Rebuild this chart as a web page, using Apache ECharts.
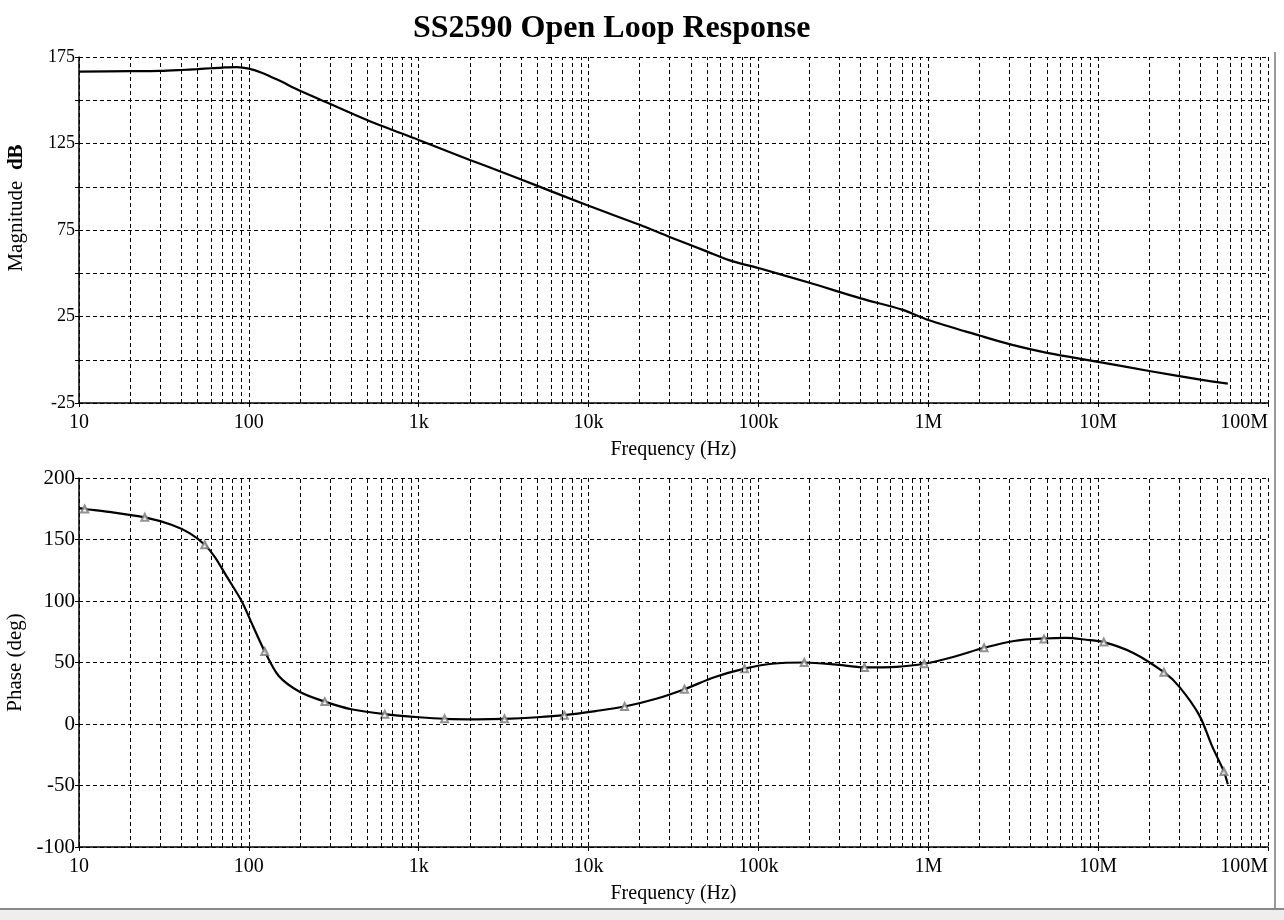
<!DOCTYPE html>
<html>
<head>
<meta charset="utf-8">
<script src="https://cdn.jsdelivr.net/npm/echarts@6/dist/echarts.min.js"></script>
<style>
html,body{margin:0;padding:0;background:#fff;}
#main{width:1284px;height:920px;}
</style>
</head>
<body>
<div id="main"></div>
<script>
// ---- data ----
const xTickLabels = {10:'10',100:'100',1000:'1k',10000:'10k',100000:'100k',1000000:'1M',10000000:'10M',100000000:'100M'};
const magTickLabels = [-25, 25, 75, 125, 175];

const magFreq = [10, 20, 30, 40, 50, 60, 70, 85, 100, 120, 150, 200, 300, 500, 1000, 2000, 3000, 5000, 10000, 20000, 30000, 50000, 70000, 100000, 200000, 400000, 700000, 1000000, 2000000, 3000000, 5000000, 10000000, 20000000, 40000000, 58000000];
const magDb   = [166.6, 166.8, 167.0, 167.5, 168.0, 168.5, 168.9, 169.2, 168.3, 165.8, 161.5, 155.5, 148.0, 138.5, 127.0, 115.5, 109.0, 100.5, 89.0, 78.0, 71.0, 62.5, 57.0, 53.0, 44.5, 35.5, 29.0, 23.0, 14.0, 9.0, 4.0, -1.2, -6.5, -11.5, -13.8];

const phaseFreq = [10, 10.8, 15, 24.4, 35, 45, 55, 63.1, 74, 90.6, 106, 124, 150, 200, 280, 400, 631, 1000, 1420, 2200, 3200, 5000, 7200, 11000, 16300, 25000, 36700, 55000, 82800, 120000, 186000, 280000, 421000, 650000, 946000, 1400000, 2130000, 3200000, 4800000, 6500000, 8500000, 10800000, 16000000, 24400000, 30000000, 39300000, 47000000, 55000000, 58000000];
const phaseDeg  = [175.5, 174.8, 172.5, 168.0, 162.0, 155.0, 145.7, 135.7, 120.0, 100.0, 79.3, 59.0, 39.0, 26.0, 18.2, 12.0, 8.0, 5.5, 4.2, 3.8, 4.2, 5.5, 7.2, 10.5, 14.2, 20.5, 28.3, 38.0, 45.0, 49.0, 50.0, 48.5, 46.0, 46.5, 49.0, 54.5, 62.0, 67.5, 69.5, 70.0, 68.5, 66.6, 58.0, 42.1, 30.4, 7.4, -18.4, -38.7, -49.0];

const phaseMarkerFreq = [10.8, 24.4, 55, 124, 280, 631, 1420, 3200, 7200, 16300, 36700, 82800, 186000, 421000, 946000, 2130000, 4800000, 10800000, 24400000, 55000000];
const phaseMarkerDeg  = [174.8, 168.0, 145.7, 59.0, 18.2, 8.0, 4.2, 4.2, 7.2, 14.2, 28.3, 45.0, 50.0, 46.0, 49.0, 62.0, 69.2, 66.6, 42.1, -38.7];

const minorFreqs = [];
for (let d = 10; d < 1e8; d *= 10) { for (let k = 2; k <= 9; k++) minorFreqs.push(d * k); }

// ---- chart ----
const FONT = '"Liberation Serif", "Times New Roman", serif';
const dash = [4, 3];
const chart = echarts.init(document.getElementById('main'), null, {renderer: 'canvas'});

function xAxisCfg(gridIndex) {
  return {
    type: 'log', logBase: 10, gridIndex, min: 10, max: 1e8,
    name: 'Frequency (Hz)', nameLocation: 'middle', nameGap: 37,
    nameTextStyle: {fontFamily: FONT, fontSize: 20, color: '#000'},
    axisLine: {show: true, onZero: false, lineStyle: {color: '#000', width: 1.5}},
    axisTick: {show: true, length: 4, inside: false, lineStyle: {color: '#000'}},
    axisLabel: {fontFamily: FONT, fontSize: 20, color: '#000', margin: 10, hideOverlap: false,
      alignMaxLabel: 'right',
      formatter: v => xTickLabels[Math.round(v)] || ''},
    splitLine: {show: true, lineStyle: {color: '#000', type: dash, width: 1}}
  };
}

function minorLine() {
  return {
    silent: true, symbol: ['none', 'none'], animation: false,
    label: {show: false},
    lineStyle: {color: '#000', type: dash, width: 1},
    emphasis: {disabled: true},
    data: minorFreqs.map(f => ({xAxis: f}))
  };
}

chart.setOption({
  animation: false,
  backgroundColor: '#fff',
  title: {
    text: 'SS2590 Open Loop Response', left: 408, top: 8,
    textStyle: {fontFamily: FONT, fontSize: 32, fontWeight: 'bold', color: '#000'}
  },
  grid: [
    {left: 79, right: 16, top: 57, height: 346, outerBoundsMode: 'none', containLabel: false},
    {left: 79, right: 16, top: 478, height: 369, outerBoundsMode: 'none', containLabel: false}
  ],
  xAxis: [xAxisCfg(0), xAxisCfg(1)],
  yAxis: [
    {
      type: 'value', gridIndex: 0, min: -25, max: 175, interval: 25,
      name: '{a|Magnitude}  {b|dB}', nameLocation: 'middle', nameGap: 52,
      nameTextStyle: {fontFamily: FONT, fontSize: 21, color: '#000', padding: [0, 0, 0, 44],
        rich: {a: {fontFamily: FONT, fontSize: 21, color: '#000'},
               b: {fontFamily: FONT, fontSize: 21, color: '#000', fontWeight: 'bold'}}},
      axisLine: {show: true, onZero: false, lineStyle: {color: '#000', width: 1.5}},
      axisTick: {show: true, length: 4, lineStyle: {color: '#000'}},
      axisLabel: {fontFamily: FONT, fontSize: 18, color: '#000', margin: 4,
        formatter: v => magTickLabels.indexOf(Math.round(v)) >= 0 ? String(Math.round(v)) : ''},
      splitLine: {show: true, lineStyle: {color: '#000', type: dash, width: 1}}
    },
    {
      type: 'value', gridIndex: 1, min: -100, max: 200, interval: 50,
      name: 'Phase (deg)', nameLocation: 'middle', nameGap: 52,
      nameTextStyle: {fontFamily: FONT, fontSize: 21, color: '#000'},
      axisLine: {show: true, onZero: false, lineStyle: {color: '#000', width: 1.5}},
      axisTick: {show: true, length: 4, lineStyle: {color: '#000'}},
      axisLabel: {fontFamily: FONT, fontSize: 21, color: '#000', margin: 4},
      splitLine: {show: true, lineStyle: {color: '#000', type: dash, width: 1}}
    }
  ],
  series: [
    {
      type: 'line', xAxisIndex: 0, yAxisIndex: 0,
      data: magFreq.map((f, i) => [f, magDb[i]]),
      showSymbol: false, smooth: 0.3,
      lineStyle: {color: '#000', width: 2.2},
      markLine: minorLine()
    },
    {
      type: 'line', xAxisIndex: 1, yAxisIndex: 1,
      data: phaseFreq.map((f, i) => [f, phaseDeg[i]]),
      showSymbol: false, smooth: 0.3,
      lineStyle: {color: '#000', width: 2.2},
      markLine: minorLine(),
      z: 3
    },
    {
      type: 'scatter', xAxisIndex: 1, yAxisIndex: 1,
      data: phaseMarkerFreq.map((f, i) => [f, phaseMarkerDeg[i]]),
      symbol: 'emptyTriangle', symbolSize: 7,
      itemStyle: {color: '#777', borderColor: '#777', borderWidth: 1},
      z: 4
    }
  ],
  graphic: [
    {type: 'line', shape: {x1: 1275, y1: 52, x2: 1275, y2: 908}, style: {stroke: '#999', lineWidth: 2}, silent: true},
    {type: 'rect', shape: {x: 0, y: 909, width: 1284, height: 11}, style: {fill: '#eeeeee'}, silent: true},
    {type: 'line', shape: {x1: 0, y1: 909, x2: 1284, y2: 909}, style: {stroke: '#888', lineWidth: 2}, silent: true}
  ]
});
</script>
</body>
</html>
